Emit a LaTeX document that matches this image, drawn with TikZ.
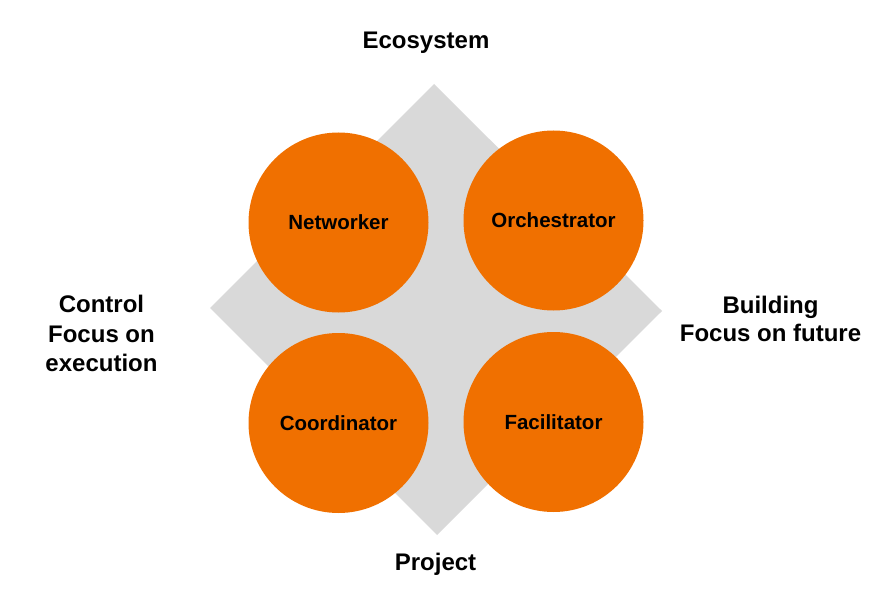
\documentclass[tikz,border=0pt]{standalone}
\usepackage{fontspec}
\setmainfont{Liberation Sans}
\definecolor{orng}{RGB}{240,112,0}
\definecolor{diamondgray}{RGB}{217,217,217}
\begin{document}
\begin{tikzpicture}[x=1pt,y=-1pt,
  role/.style={circle,fill=orng,draw=none,minimum size=180pt,inner sep=0pt,
    font=\fontsize{20.5}{24}\selectfont\bfseries,text=black},
  axis/.style={font=\fontsize{24}{29}\selectfont\bfseries,text=black,align=center,inner sep=0pt,anchor=base}]
\useasboundingbox (0,0) rectangle (891,596);
\fill[diamondgray] (434,84) -- (662,311) -- (437,535) -- (210,308) -- cycle;
\node[role] (net) at (338.5,222.5) {Networker};
\node[role] (orc) at (553.5,220.5) {Orchestrator};
\node[role] (coo) at (338.5,423) {Coordinator};
\node[role] (fac) at (553.5,422) {Facilitator};
\node[axis] (eco) at (426,48.3) {Ecosystem};
\node[axis] (pro) at (435.5,570) {Project};
\node[axis,font=\fontsize{24}{29.7}\selectfont\bfseries] (ctl) at (101.5,371.7) {Control\\Focus on\\execution};
\node[axis,font=\fontsize{24}{28.4}\selectfont\bfseries] (bld) at (770.5,341.7) {Building\\Focus on future};
\end{tikzpicture}
\end{document}
